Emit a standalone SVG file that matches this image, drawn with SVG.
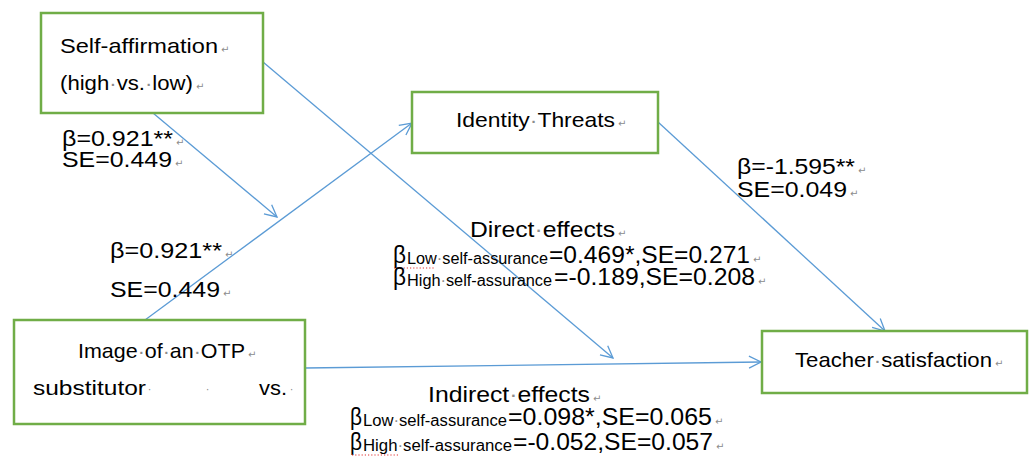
<svg xmlns="http://www.w3.org/2000/svg" width="1033" height="457" viewBox="0 0 1033 457">
<style>
.box{fill:#fff;stroke:#70AD47;stroke-width:2.5}
.edge{fill:none;stroke:#5B9BD5;stroke-width:1.3}
.bt{font-family:"Liberation Sans",Arial,sans-serif;font-size:21px;fill:#000}
.lb{font-family:"Liberation Sans",Arial,sans-serif;font-size:22px;fill:#000}
.big{font-family:"Liberation Sans",Arial,sans-serif;font-size:24px;fill:#000}
.sub{font-family:"Liberation Sans",Arial,sans-serif;font-size:16px;fill:#000}
.pm{font-family:"DejaVu Sans",sans-serif;font-size:10px;fill:#8c8c8c}
.dot{fill:#8c8c8c}
.spell{stroke:#e03030;stroke-width:1.2;stroke-dasharray:1.2 2;fill:none}
</style>
<defs>
<marker id="arr" markerUnits="userSpaceOnUse" markerWidth="16" markerHeight="16" refX="13" refY="7" orient="auto">
<path d="M1,1 L13,7 L1,13" fill="none" stroke="#5B9BD5" stroke-width="1.3"/>
</marker>
</defs>
<rect width="1033" height="457" fill="#fff"/>

<g id="connectors">
<line class="edge" x1="153" y1="113" x2="277" y2="217" marker-end="url(#arr)"/>
<line class="edge" x1="145" y1="320" x2="412" y2="123" marker-end="url(#arr)"/>
<line class="edge" x1="263" y1="62" x2="613" y2="358" marker-end="url(#arr)"/>
<line class="edge" x1="658" y1="122" x2="885" y2="331" marker-end="url(#arr)"/>
<line class="edge" x1="305" y1="368" x2="761" y2="362" marker-end="url(#arr)"/>
</g>

<g id="node-self-affirmation">
<rect class="box" x="41" y="13" width="222" height="100"/>
<text class="bt" x="60" y="53" textLength="158" lengthAdjust="spacingAndGlyphs">Self-affirmation</text>
<text class="pm" x="221" y="53">↵</text>
<text class="bt" x="60" y="90" textLength="133" lengthAdjust="spacingAndGlyphs">(high<tspan class="dot">·</tspan>vs.<tspan class="dot">·</tspan>low)</text>
<text class="pm" x="196" y="90">↵</text>
</g>

<g id="node-identity-threats">
<rect class="box" x="412" y="92" width="246" height="61"/>
<text class="bt" x="456" y="127" textLength="159" lengthAdjust="spacingAndGlyphs">Identity<tspan class="dot">·</tspan>Threats</text>
<text class="pm" x="618" y="127">↵</text>
</g>

<g id="node-teacher-satisfaction">
<rect class="box" x="762" y="331" width="265" height="62"/>
<text class="bt" x="795" y="367" textLength="197" lengthAdjust="spacingAndGlyphs">Teacher<tspan class="dot">·</tspan>satisfaction</text>
<text class="pm" x="995" y="367">↵</text>
</g>

<g id="node-image-otp">
<rect class="box" x="14" y="320" width="291" height="104"/>
<text class="bt" x="78" y="358" textLength="167" lengthAdjust="spacingAndGlyphs">Image<tspan class="dot">·</tspan>of<tspan class="dot">·</tspan>an<tspan class="dot">·</tspan>OTP</text>
<text class="pm" x="248" y="358">↵</text>
<text class="bt" x="33" y="395" textLength="113" lengthAdjust="spacingAndGlyphs">substitutor</text>
<text class="pm" x="148" y="393">·</text>
<text class="pm" x="206" y="393">·</text>
<text class="bt" x="259" y="395" textLength="28" lengthAdjust="spacingAndGlyphs">vs.</text>
<text class="pm" x="290" y="393">·</text>
</g>

<g id="labels">
<text class="lb" x="62" y="146" textLength="111" lengthAdjust="spacingAndGlyphs">β=0.921**</text>
<text class="pm" x="176" y="146">↵</text>
<text class="lb" x="62" y="167" textLength="110" lengthAdjust="spacingAndGlyphs">SE=0.449</text>
<text class="pm" x="175" y="167">↵</text>

<text class="lb" x="110" y="258" textLength="112" lengthAdjust="spacingAndGlyphs">β=0.921**</text>
<text class="pm" x="225" y="258">↵</text>
<text class="lb" x="110" y="297" textLength="110" lengthAdjust="spacingAndGlyphs">SE=0.449</text>
<text class="pm" x="223" y="297">↵</text>

<text class="lb" x="737" y="174" textLength="118" lengthAdjust="spacingAndGlyphs">β=-1.595**</text>
<text class="pm" x="858" y="174">↵</text>
<text class="lb" x="737" y="197" textLength="110" lengthAdjust="spacingAndGlyphs">SE=0.049</text>
<text class="pm" x="850" y="197">↵</text>

<text class="lb" x="470" y="237" textLength="145" lengthAdjust="spacingAndGlyphs">Direct<tspan class="dot">·</tspan>effects</text>
<text class="pm" x="618" y="237">↵</text>
<text class="big" x="393" y="263" textLength="13" lengthAdjust="spacingAndGlyphs">β</text>
<text class="sub" x="407" y="264" textLength="141" lengthAdjust="spacingAndGlyphs">Low<tspan class="dot">·</tspan>self-assurance</text>
<text class="big" x="549" y="263" textLength="201" lengthAdjust="spacingAndGlyphs">=0.469*,SE=0.271</text>
<text class="pm" x="753" y="263">↵</text>
<line class="spell" x1="394" y1="268" x2="434" y2="268"/>
<text class="big" x="393" y="285" textLength="13" lengthAdjust="spacingAndGlyphs">β</text>
<text class="sub" x="407" y="286" textLength="145" lengthAdjust="spacingAndGlyphs">High<tspan class="dot">·</tspan>self-assurance</text>
<text class="big" x="554" y="285" textLength="201" lengthAdjust="spacingAndGlyphs">=-0.189,SE=0.208</text>
<text class="pm" x="758" y="285">↵</text>

<text class="lb" x="428" y="402" textLength="162" lengthAdjust="spacingAndGlyphs">Indirect<tspan class="dot">·</tspan>effects</text>
<text class="pm" x="593" y="402">↵</text>
<text class="big" x="350" y="425" textLength="12" lengthAdjust="spacingAndGlyphs">β</text>
<text class="sub" x="363" y="426" textLength="144" lengthAdjust="spacingAndGlyphs">Low<tspan class="dot">·</tspan>self-assurance</text>
<text class="big" x="508" y="425" textLength="204" lengthAdjust="spacingAndGlyphs">=0.098*,SE=0.065</text>
<text class="pm" x="715" y="425">↵</text>
<text class="big" x="350" y="450" textLength="12" lengthAdjust="spacingAndGlyphs">β</text>
<text class="sub" x="363" y="451" textLength="149" lengthAdjust="spacingAndGlyphs">High<tspan class="dot">·</tspan>self-assurance</text>
<text class="big" x="513" y="450" textLength="200" lengthAdjust="spacingAndGlyphs">=-0.052,SE=0.057</text>
<text class="pm" x="716" y="450">↵</text>
<line class="spell" x1="352" y1="455" x2="400" y2="455"/>
</g>
</svg>
